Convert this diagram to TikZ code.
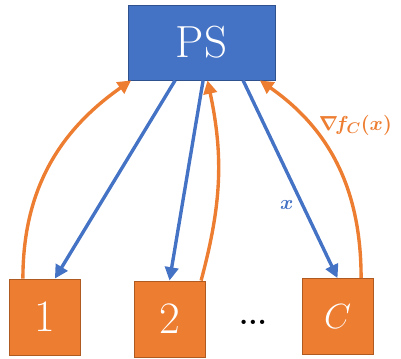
\documentclass[tikz,border=0pt]{standalone}
\usepackage{amsmath,bm}
\usetikzlibrary{arrows.meta,positioning}
\definecolor{psblue}{HTML}{4472C4}
\definecolor{psedge}{HTML}{2F528F}
\definecolor{wkorange}{HTML}{ED7D31}
\definecolor{wkedge}{HTML}{AE5A21}
\begin{document}
\begin{tikzpicture}[
    server/.style={draw=psedge,fill=psblue,text=white,line width=0.6pt,
        minimum width=3.675cm,minimum height=1.875cm,font=\fontsize{32}{36}\selectfont},
    worker/.style={draw=wkedge,fill=wkorange,text=white,line width=0.6pt,
        minimum width=1.775cm,minimum height=1.9cm,font=\fontsize{32}{36}\selectfont},
    push/.style={draw=psblue,line width=2.4pt,-{Triangle[length=9.5pt,width=9.5pt]}},
    pull/.style={draw=wkorange,line width=2.4pt,-{Triangle[length=9.5pt,width=9.5pt]}},
    lbl/.style={font=\fontsize{15}{18}\selectfont}
]
    \useasboundingbox (0,0) rectangle (10.025,8.95);
    \node[server] (ps) at (5.0375,7.8875) {PS};
    \node[worker] (w1) at (1.1125,1.025) {1};
    \node[worker] (w2) at (4.2375,0.975) {2};
    \node[worker] (wc) at (8.4375,1.0375) {$C$};
    \node[font=\bfseries\fontsize{21}{24}\selectfont,anchor=base] (dots) at (6.325,0.83) {...};
    % worker 1
    \draw[pull] ([xshift=-0.54cm]w1.north) to[out=90,in=215] ([xshift=-1.76cm]ps.south);
    \draw[push] ([xshift=-0.66cm]ps.south) -- ([xshift=0.26cm]w1.north);
    % worker 2
    \draw[push] ([xshift=0.04cm]ps.south) -- (w2.north);
    \draw[pull] ([xshift=0.79cm]w2.north) to[out=75,in=-78] ([xshift=0.15cm]ps.south);
    % worker C
    \draw[push] ([xshift=1.04cm]ps.south) -- node[lbl,pos=0.63,left=2pt,text=psblue] {$\bm{x}$} (wc.north);
    \draw[pull] ([xshift=0.59cm]wc.north) to[out=90,in=-35]
        node[lbl,pos=0.72,anchor=west,inner sep=1pt,xshift=4pt,text=wkorange] {$\bm{\nabla\! f_C(x)}$} ([xshift=1.46cm]ps.south);
\end{tikzpicture}
\end{document}
